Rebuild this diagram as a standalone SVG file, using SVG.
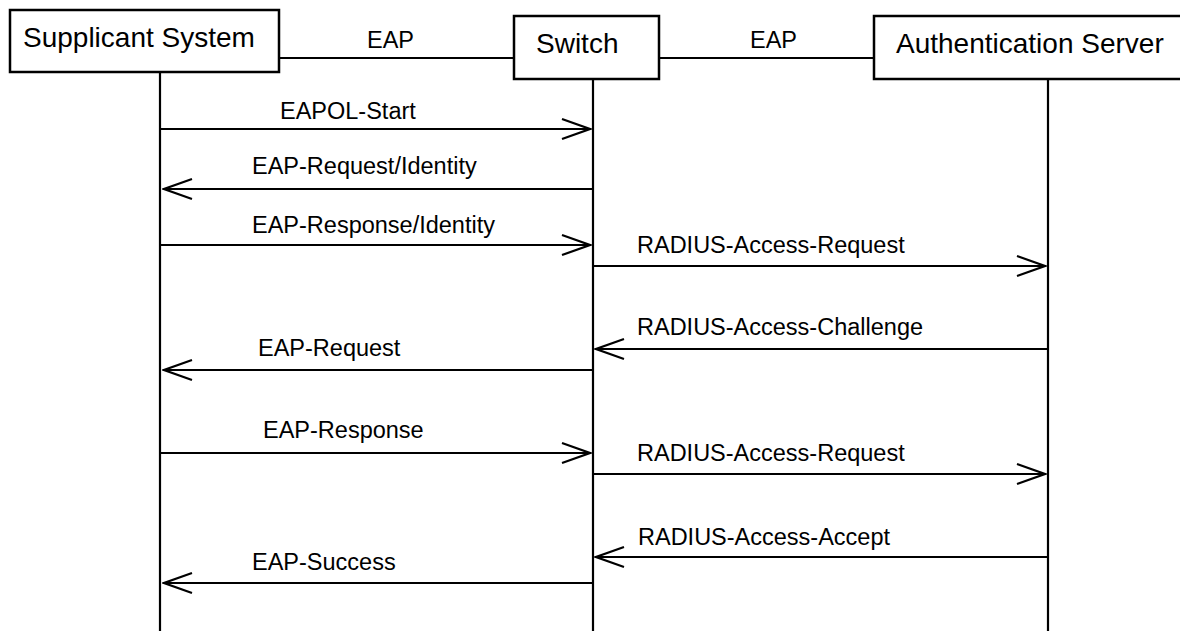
<svg xmlns="http://www.w3.org/2000/svg" width="1180" height="631" viewBox="0 0 1180 631">
<defs>
<style>
.box{fill:#fff;stroke:#000;stroke-width:2.5}
.nt{font-family:"Liberation Sans",Arial,sans-serif;font-size:28px;fill:#000}
.lb{font-family:"Liberation Sans",Arial,sans-serif;font-size:23.5px;fill:#000}
.ln{stroke:#000;stroke-width:2.2;fill:none}
.msg{stroke:#000;stroke-width:2.2;fill:none;marker-end:url(#ah)}
</style>
<marker id="ah" markerUnits="userSpaceOnUse" markerWidth="32" markerHeight="24" viewBox="-2 -2 32 24" refX="28" refY="10" orient="auto">
<path d="M0,0 L28,10 L0,20" fill="none" stroke="#000" stroke-width="2.2"/>
</marker>
</defs>
<rect width="1180" height="631" fill="#fff"/>
<g id="connectors">
<line class="ln" x1="160" y1="72" x2="160" y2="631"/>
<line class="ln" x1="593" y1="79" x2="593" y2="631"/>
<line class="ln" x1="1048" y1="79" x2="1048" y2="631"/>
<line class="ln" x1="279" y1="58" x2="514" y2="58"/>
<line class="ln" x1="659" y1="58" x2="874" y2="58"/>
<text class="lb" x="367" y="48">EAP</text>
<text class="lb" x="750" y="48">EAP</text>
<line class="msg" x1="160" y1="129" x2="590" y2="129"/>
<text class="lb" x="280" y="119">EAPOL-Start</text>
<line class="msg" x1="593" y1="189" x2="164" y2="189"/>
<text class="lb" x="252" y="174">EAP-Request/Identity</text>
<line class="msg" x1="160" y1="245" x2="590" y2="245"/>
<text class="lb" x="252" y="233">EAP-Response/Identity</text>
<line class="msg" x1="593" y1="266" x2="1045" y2="266"/>
<text class="lb" x="637" y="253">RADIUS-Access-Request</text>
<line class="msg" x1="1048" y1="349" x2="596" y2="349"/>
<text class="lb" x="637" y="335">RADIUS-Access-Challenge</text>
<line class="msg" x1="593" y1="370" x2="164" y2="370"/>
<text class="lb" x="258" y="356">EAP-Request</text>
<line class="msg" x1="160" y1="453" x2="590" y2="453"/>
<text class="lb" x="263" y="438">EAP-Response</text>
<line class="msg" x1="593" y1="474" x2="1045" y2="474"/>
<text class="lb" x="637" y="461">RADIUS-Access-Request</text>
<line class="msg" x1="1048" y1="557" x2="596" y2="557"/>
<text class="lb" x="638" y="545">RADIUS-Access-Accept</text>
<line class="msg" x1="593" y1="583" x2="164" y2="583"/>
<text class="lb" x="252" y="570">EAP-Success</text>
</g>
<g id="supplicant">
<rect class="box" x="10" y="10" width="269" height="62"/>
<text class="nt" x="23" y="47">Supplicant System</text>
</g>
<g id="switch">
<rect class="box" x="514" y="16" width="145" height="63"/>
<text class="nt" x="536" y="53">Switch</text>
</g>
<g id="server">
<rect class="box" x="874" y="16" width="320" height="63"/>
<text class="nt" x="896" y="53">Authentication Server</text>
</g>
</svg>
